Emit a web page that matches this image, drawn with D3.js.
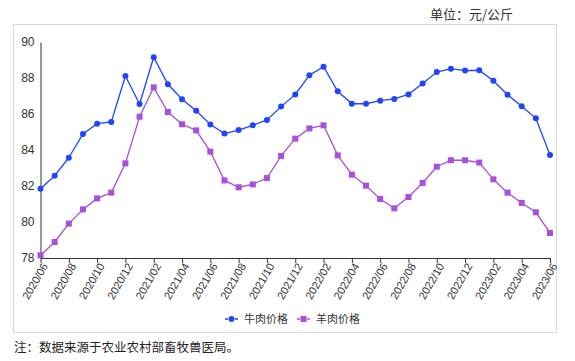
<!DOCTYPE html>
<html>
<head>
<meta charset="utf-8">
<script src="https://cdn.jsdelivr.net/npm/d3@7"></script>
<style>
  body { margin: 0; background: #fff; }
  svg { display: block; }
</style>
</head>
<body>
<script>
const months = ["2020/06","2020/07","2020/08","2020/09","2020/10","2020/11","2020/12",
  "2021/01","2021/02","2021/03","2021/04","2021/05","2021/06","2021/07","2021/08","2021/09","2021/10","2021/11","2021/12",
  "2022/01","2022/02","2022/03","2022/04","2022/05","2022/06","2022/07","2022/08","2022/09","2022/10","2022/11","2022/12",
  "2023/01","2023/02","2023/03","2023/04","2023/05","2023/06"];

const beef = [81.85, 82.57, 83.57, 84.89, 85.46, 85.56, 88.11,
  86.56, 89.15, 87.65, 86.82, 86.18, 85.42, 84.91, 85.11, 85.37, 85.67, 86.41, 87.09,
  88.15, 88.63, 87.26, 86.57, 86.57, 86.74, 86.84, 87.09, 87.70, 88.33, 88.52, 88.41,
  88.43, 87.85, 87.07, 86.43, 85.76, 83.72];

const mutton = [78.15, 78.89, 79.91, 80.70, 81.31, 81.63, 83.26,
  85.85, 87.48, 86.11, 85.43, 85.09, 83.91, 82.31, 81.93, 82.09, 82.44, 83.67, 84.63,
  85.20, 85.37, 83.70, 82.63, 82.02, 81.28, 80.76, 81.39, 82.17, 83.07, 83.43, 83.43,
  83.30, 82.37, 81.63, 81.06, 80.54, 79.39];

const yTicks = [78, 80, 82, 84, 86, 88, 90];
const seriesNames = ["牛肉价格", "羊肉价格"];

const W = 575;
const H = 361;
const Lpad = 40.5;
const Rpad = 25;
const Tpad = 42;
const Bpad = 103;

const blue = "#1f45fc";
const purple = "#a84fdc";
const font = "'Liberation Sans', 'Noto Sans CJK SC', sans-serif";

const svg = d3.select("body")
  .append("svg")
  .attr("width", W)
  .attr("height", H)
  .style("font-family", font);

// frame
svg.append("rect")
  .attr("x", 13.5)
  .attr("y", 24.5)
  .attr("width", 543)
  .attr("height", 308)
  .attr("fill", "none")
  .attr("stroke", "#d9d9d9");

svg.append("text")
  .text("单位：元/公斤")
  .attr("x", 513)
  .attr("y", 19)
  .attr("text-anchor", "end")
  .style("font-family", "'Noto Sans CJK SC', sans-serif")
  .style("font-size", "13px")
  .attr("fill", "#333");

const xScale = d3.scaleLinear()
  .domain([0, months.length - 1])
  .range([Lpad, W - Rpad]);

const yScale = d3.scaleLinear()
  .domain([78, 90])
  .range([H - Bpad, Tpad]);

const xAxis = d3.axisBottom(xScale)
  .tickValues(d3.range(0, months.length, 2))
  .tickFormat((d) => months[d])
  .tickSizeInner(5)
  .tickSizeOuter(0);

const xg = svg.append("g")
  .attr("transform", `translate(0, ${H - Bpad})`)
  .call(xAxis);

xg.select(".domain").attr("stroke", "#333");
xg.selectAll(".tick line").attr("stroke", "#333");
xg.selectAll(".tick text")
  .attr("fill", "#333")
  .style("font-size", "11px")
  .style("font-family", font)
  .attr("text-anchor", "end")
  .attr("transform", "translate(4, 6) rotate(-60)")
  .attr("x", 0)
  .attr("y", 0)
  .attr("dy", "0.35em");

const yAxis = d3.axisLeft(yScale)
  .tickValues(yTicks)
  .tickSize(0)
  .tickPadding(6);

const yg = svg.append("g")
  .attr("transform", `translate(${Lpad}, 0)`)
  .call(yAxis);

yg.select(".domain").attr("stroke", "#333");
yg.selectAll(".tick text")
  .attr("fill", "#333")
  .style("font-size", "12px")
  .style("font-family", font);

const line = d3.line()
  .x((d, i) => xScale(i))
  .y((d) => yScale(d));

svg.append("path")
  .datum(beef)
  .attr("d", line)
  .attr("fill", "none")
  .attr("stroke", blue)
  .attr("stroke-width", 1.3);

svg.selectAll(".beef")
  .data(beef)
  .enter()
  .append("circle")
  .attr("class", "beef")
  .attr("cx", (d, i) => xScale(i))
  .attr("cy", (d) => yScale(d))
  .attr("r", 3)
  .attr("fill", blue);

svg.append("path")
  .datum(mutton)
  .attr("d", line)
  .attr("fill", "none")
  .attr("stroke", purple)
  .attr("stroke-width", 1.3);

svg.selectAll(".mutton")
  .data(mutton)
  .enter()
  .append("rect")
  .attr("class", "mutton")
  .attr("x", (d, i) => xScale(i) - 3)
  .attr("y", (d) => yScale(d) - 3)
  .attr("width", 6)
  .attr("height", 6)
  .attr("fill", purple);

// legend
const legend = svg.append("g");
const legendX = [225, 297];
const legendY = 319;

seriesNames.forEach((name, i) => {
  const x0 = legendX[i];
  const c = i === 0 ? blue : purple;
  legend.append("line")
    .attr("x1", x0).attr("x2", x0 + 13)
    .attr("y1", legendY).attr("y2", legendY)
    .attr("stroke", c)
    .attr("stroke-width", 1.5)
    .attr("stroke-dasharray", "3,2");
  if (i === 0) {
    legend.append("circle")
      .attr("cx", x0 + 6.5).attr("cy", legendY).attr("r", 3)
      .attr("fill", c);
  } else {
    legend.append("rect")
      .attr("x", x0 + 3.5).attr("y", legendY - 3)
      .attr("width", 6).attr("height", 6)
      .attr("fill", c);
  }
  legend.append("text")
    .text(name)
    .attr("x", x0 + 19)
    .attr("y", legendY)
    .attr("dy", "0.35em")
    .style("font-family", "'Noto Sans CJK SC', sans-serif")
    .style("font-size", "11px")
    .attr("fill", "#333");
});

svg.append("text")
  .text("注：数据来源于农业农村部畜牧兽医局。")
  .attr("x", 14)
  .attr("y", 348)
  .attr("dy", "0.35em")
  .style("font-family", "'Noto Sans CJK SC', sans-serif")
  .style("font-size", "12.5px")
  .attr("fill", "#222");
</script>
</body>
</html>
